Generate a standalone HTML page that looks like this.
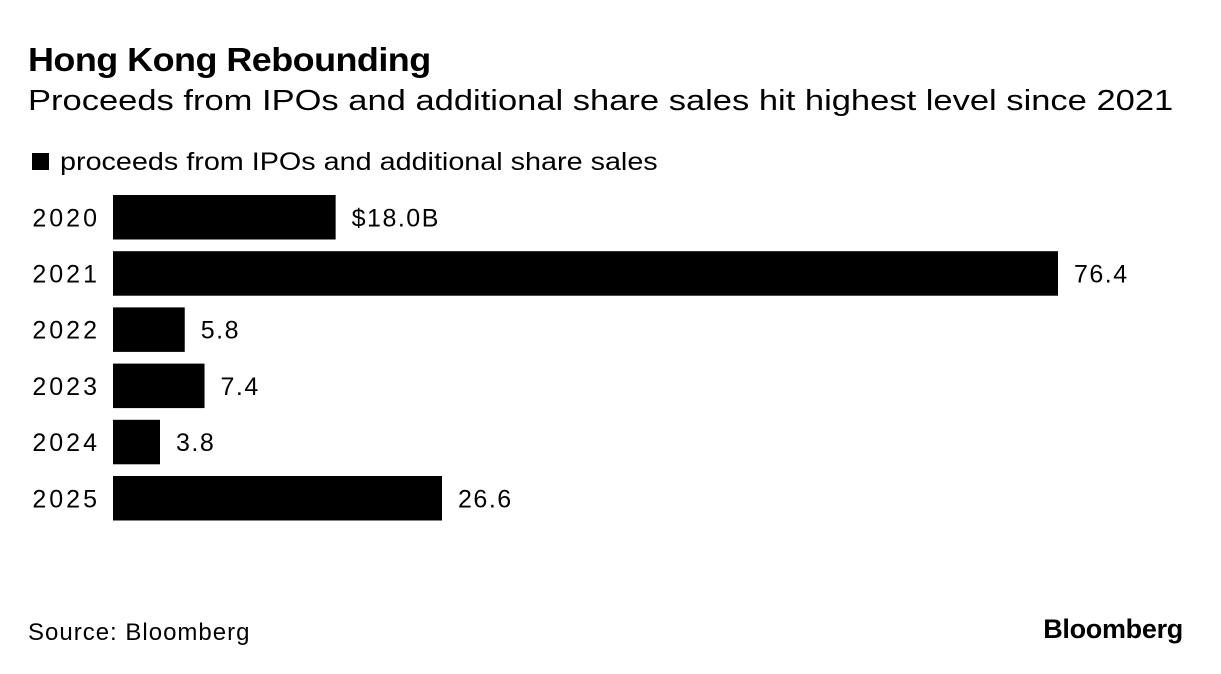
<!DOCTYPE html>
<html><head><meta charset="utf-8"><style>
body{margin:0;width:1221px;height:674px;background:#fff;font-family:"Liberation Sans",sans-serif;color:#000;position:relative;overflow:hidden}
.t{position:absolute;white-space:nowrap;transform-origin:left top}
</style></head><body>
<div class="t" style="left:28px;top:41px;font-size:33px;font-weight:bold;letter-spacing:-0.5px;transform:scaleX(1.09)">Hong Kong Rebounding</div>
<div class="t" style="left:28px;top:85px;font-size:29px;transform:scaleX(1.19)">Proceeds from IPOs and additional share sales hit highest level since 2021</div>
<div class="t" style="left:32px;top:148px;font-size:25px"><span style="display:inline-block;width:17px;height:17px;background:#000;margin-right:11px;vertical-align:0px"></span><span style="display:inline-block;transform:scaleX(1.15);transform-origin:left">proceeds from IPOs and additional share sales</span></div>
<svg id="chart" width="1221" height="674" style="position:absolute;left:0;top:0"></svg>
<div class="t" style="left:28px;top:619px;font-size:24px;letter-spacing:1px">Source: Bloomberg</div>
<div class="t" style="right:38px;top:614px;font-size:27px;font-weight:bold;letter-spacing:-0.3px">Bloomberg</div>
<script>
const categories=["2020","2021","2022","2023","2024","2025"];
const values=[18.0,76.4,5.8,7.4,3.8,26.6];
const valueLabels=["$18.0B","76.4","5.8","7.4","3.8","26.6"];
const svg=document.getElementById('chart');
const NS='http://www.w3.org/2000/svg';
const x0=113,scale=(1058-113)/76.4;
function xs(v){return x0+v*scale;}
function ys(i){return 195+i*56.2;}
const bh=44.5;
categories.forEach((c,i)=>{
 const r=document.createElementNS(NS,'rect');
 r.setAttribute('x',x0);r.setAttribute('y',ys(i));
 r.setAttribute('width',xs(values[i])-x0);r.setAttribute('height',bh);
 r.setAttribute('fill','#000');
 
 
 svg.appendChild(r);
 const t=document.createElementNS(NS,'text');
 t.setAttribute('x',100);t.setAttribute('y',ys(i)+bh/2+9);
 t.setAttribute('text-anchor','end');t.setAttribute('font-size','25');
 t.setAttribute('letter-spacing','3');
 t.setAttribute('font-family','Liberation Sans, sans-serif');
 t.textContent=c;
 
 
 svg.appendChild(t);
 const v=document.createElementNS(NS,'text');
 v.setAttribute('x',xs(values[i])+16);v.setAttribute('y',ys(i)+bh/2+9);
 v.setAttribute('font-size','25');
 v.setAttribute('letter-spacing','1.5');
 v.setAttribute('font-family','Liberation Sans, sans-serif');
 v.textContent=valueLabels[i];
 
 
 svg.appendChild(v);
});
</script>
</body></html>
